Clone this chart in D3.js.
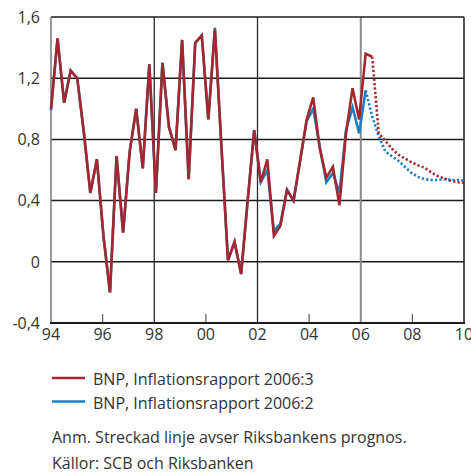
<!DOCTYPE html>
<html>
<head>
<meta charset="utf-8">
<script src="https://cdn.jsdelivr.net/npm/d3@7"></script>
<style>
  html, body { margin: 0; padding: 0; background: #fff; }
  svg { display: block; }
  text { font-family: "Open Sans", "Noto Sans", sans-serif; fill: #333; }
</style>
</head>
<body>
<svg id="chart" width="471" height="472"></svg>
<script>
// ---- data ----
const startYear = 1994;
const nQuarters = 64; // 1994 Q1 .. 2009 Q4
const yearTicks = [1994, 1996, 1998, 2000, 2002, 2004, 2006, 2008, 2010];
const yearLabels = ["94", "96", "98", "00", "02", "04", "06", "08", "10"];
const yTicks = [-0.4, 0, 0.4, 0.8, 1.2, 1.6];
const yTickLabels = ["-0,4", "0", "0,4", "0,8", "1,2", "1,6"];
const gridYears = [1998, 2002];
const forecastStartYear = 2006;

// BNP, Inflationsrapport 2006:3 — outcome (1994 Q1 .. 2006 Q2)
const redActual = [
  1.00, 1.46, 1.04, 1.25, 1.20, 0.85, 0.45, 0.67,
  0.17, -0.20, 0.69, 0.19, 0.72, 1.00, 0.61, 1.29,
  0.45, 1.30, 0.88, 0.73, 1.45, 0.54, 1.43, 1.48,
  0.93, 1.52, 0.75, 0.01, 0.13, -0.08, 0.40, 0.86,
  0.52, 0.67, 0.17, 0.235, 0.47, 0.40, 0.66, 0.93,
  1.075, 0.74, 0.55, 0.62, 0.37, 0.84, 1.135, 0.93,
  1.36, 1.34
];
// forecast 2006 Q2 .. 2009 Q4
const redForecast = [
  1.34, 0.84, 0.79, 0.74, 0.70, 0.675, 0.65, 0.63,
  0.615, 0.585, 0.56, 0.545, 0.53, 0.52, 0.515
];
// BNP, Inflationsrapport 2006:2 — outcome (1994 Q1 .. 2006 Q1)
const blueActual = [
  0.99, 1.46, 1.04, 1.25, 1.20, 0.85, 0.45, 0.67,
  0.17, -0.20, 0.69, 0.19, 0.72, 1.00, 0.61, 1.29,
  0.45, 1.30, 0.88, 0.73, 1.45, 0.54, 1.43, 1.48,
  0.93, 1.53, 0.75, 0.01, 0.13, -0.08, 0.40, 0.86,
  0.52, 0.60, 0.20, 0.25, 0.47, 0.40, 0.66, 0.92,
  1.00, 0.75, 0.52, 0.58, 0.45, 0.86, 1.01, 0.84,
  1.12
];
// forecast 2006 Q1 .. 2009 Q4
const blueForecast = [
  1.12, 0.95, 0.82, 0.72, 0.69, 0.66, 0.62, 0.58,
  0.555, 0.54, 0.535, 0.535, 0.54, 0.535, 0.535, 0.53
];

const legendLabels = ["BNP, Inflationsrapport 2006:3", "BNP, Inflationsrapport 2006:2"];
const noteText = "Anm. Streckad linje avser Riksbankens prognos.";
const sourceText = "Källor: SCB och Riksbanken";

// ---- layout ----
const RED = "#a5262f";
const BLUE = "#1a7fc4";
const plot = { left: 51, right: 464, top: 17, bottom: 323 };
const FS = 16;

const svg = d3.select("#chart");

const x = d3.scaleLinear().domain([0, nQuarters - 1]).range([plot.left, plot.right]);
const xYear = d3.scaleLinear().domain([startYear, 2010]).range([plot.left, plot.right]);
const y = d3.scaleLinear().domain([-0.4, 1.6]).range([plot.bottom, plot.top]);

// horizontal grid
svg.append("g").selectAll("line")
  .data(yTicks.filter(v => v > -0.4 && v < 1.6))
  .join("line")
  .attr("x1", plot.left).attr("x2", plot.right)
  .attr("y1", d => y(d)).attr("y2", d => y(d))
  .attr("stroke", "#1c1c1c").attr("stroke-width", 1.5);

// vertical grid
svg.append("g").selectAll("line")
  .data(gridYears)
  .join("line")
  .attr("x1", d => xYear(d)).attr("x2", d => xYear(d))
  .attr("y1", plot.top).attr("y2", plot.bottom)
  .attr("stroke", "#2a2a2a").attr("stroke-width", 1.3);

svg.append("line")
  .attr("x1", xYear(forecastStartYear)).attr("x2", xYear(forecastStartYear))
  .attr("y1", plot.top).attr("y2", plot.bottom)
  .attr("stroke", "#8a8a8a").attr("stroke-width", 2);

// small ticks at 96, 00, 04, 08
svg.append("g").selectAll("line")
  .data(yearTicks.filter((d, i) => i % 2 === 1))
  .join("line")
  .attr("x1", d => xYear(d)).attr("x2", d => xYear(d))
  .attr("y1", plot.bottom).attr("y2", plot.bottom - 9)
  .attr("stroke", "#666").attr("stroke-width", 1.3);

// frame
svg.append("line").attr("x1", plot.left).attr("x2", plot.right)
  .attr("y1", plot.top).attr("y2", plot.top)
  .attr("stroke", "#1c1c1c").attr("stroke-width", 1.5);
svg.append("line").attr("x1", plot.right).attr("x2", plot.right)
  .attr("y1", plot.top).attr("y2", plot.bottom)
  .attr("stroke", "#1c1c1c").attr("stroke-width", 1.5);
svg.append("line").attr("x1", plot.left).attr("x2", plot.left)
  .attr("y1", plot.top).attr("y2", plot.bottom)
  .attr("stroke", "#777").attr("stroke-width", 1.5);
svg.append("line").attr("x1", plot.left - 1).attr("x2", plot.right + 1)
  .attr("y1", plot.bottom).attr("y2", plot.bottom)
  .attr("stroke", "#1c1c1c").attr("stroke-width", 2);

// y labels
svg.append("g").selectAll("text")
  .data(yTicks)
  .join("text")
  .attr("x", 40).attr("y", d => y(d) + 5.7)
  .attr("text-anchor", "end")
  .attr("font-size", FS)
  .text((d, i) => yTickLabels[i]);

// x labels
svg.append("g").selectAll("text")
  .data(yearTicks)
  .join("text")
  .attr("x", d => xYear(d)).attr("y", 340)
  .attr("text-anchor", "middle")
  .attr("font-size", FS)
  .text((d, i) => yearLabels[i]);

// lines
const line = d3.line().x(d => x(d.i)).y(d => y(d.v));
const toPts = (arr, offset) => arr.map((v, k) => ({ i: k + offset, v }));

const series = [
  { actual: blueActual, forecast: blueForecast, color: BLUE },
  { actual: redActual, forecast: redForecast, color: RED }
];

series.forEach(s => {
  svg.append("path")
    .attr("d", line(toPts(s.actual, 0)))
    .attr("fill", "none").attr("stroke", s.color)
    .attr("stroke-width", 2.6).attr("stroke-linejoin", "miter");
  svg.append("path")
    .attr("d", line(toPts(s.forecast, s.actual.length - 1)))
    .attr("fill", "none").attr("stroke", s.color)
    .attr("stroke-width", 2.6).attr("stroke-dasharray", "2.2,2.2");
});

// legend
const legend = svg.append("g");
legendLabels.forEach((lab, k) => {
  const ly = 378 + k * 23.5;
  legend.append("line")
    .attr("x1", 52).attr("x2", 85).attr("y1", ly).attr("y2", ly)
    .attr("stroke", k === 0 ? RED : BLUE).attr("stroke-width", 2.6);
  legend.append("text")
    .attr("x", 93).attr("y", ly + 7)
    .attr("font-size", FS)
    .text(lab);
});

svg.append("text").attr("x", 52).attr("y", 443).attr("font-size", FS).text(noteText);
svg.append("text").attr("x", 52).attr("y", 469).attr("font-size", FS).text(sourceText);
</script>
</body>
</html>
